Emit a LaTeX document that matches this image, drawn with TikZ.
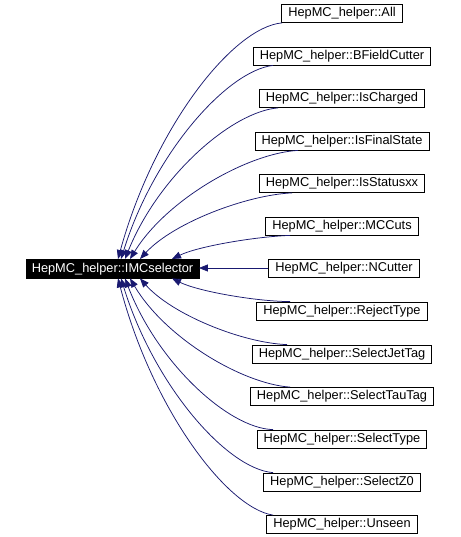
\documentclass[tikz,border=0pt]{standalone}
\usepackage{fontspec}
\setmainfont{Liberation Sans}
\usetikzlibrary{arrows.meta}
\definecolor{edgeblue}{RGB}{25,25,112}
\tikzset{
  cls/.style={draw=black, line width=0.8pt, fill=white, minimum height=18pt, inner ysep=0pt, inner xsep=6.5pt,
    font=\fontsize{12.8}{14}\selectfont},
  mainbox/.style={draw=black, fill=black, text=white, minimum height=19pt, inner ysep=0pt, inner xsep=5.5pt,
    font=\fontsize{12.8}{14}\selectfont},
  edge/.style={draw=edgeblue, line width=0.75pt, -{Triangle[length=9pt,width=7pt]}}
}
\begin{document}
\begin{tikzpicture}[x=1pt,y=-1pt]
\useasboundingbox[fill=white] (0,0) rectangle (460,537);
\node[mainbox] (main) at (112.5,268.7) {HepMC\_helper::IMCselector};
\node[cls] (n1)  at (342,13.5)  {HepMC\_helper::All};
\node[cls] (n2)  at (342,56)    {HepMC\_helper::BFieldCutter};
\node[cls] (n3)  at (342,98.5)  {HepMC\_helper::IsCharged};
\node[cls] (n4)  at (342,141)   {HepMC\_helper::IsFinalState};
\node[cls] (n5)  at (342,183.5) {HepMC\_helper::IsStatusxx};
\node[cls] (n6)  at (342,226)   {HepMC\_helper::MCCuts};
\node[cls] (n7)  at (344,268)   {HepMC\_helper::NCutter};
\node[cls] (n8)  at (342,311)   {HepMC\_helper::RejectType};
\node[cls] (n9)  at (342,354)   {HepMC\_helper::SelectJetTag};
\node[cls] (n10) at (342,396.5) {HepMC\_helper::SelectTauTag};
\node[cls] (n11) at (342,439)   {HepMC\_helper::SelectType};
\node[cls] (n12) at (342,482)   {HepMC\_helper::SelectZ0};
\node[cls] (n13) at (342,524.5) {HepMC\_helper::Unseen};

\draw[edge] ([xshift=-60pt]n1.south) .. controls (232.8,27.2) and (154.1,127.6) .. ([xshift=5.5pt]main.north);
\draw[edge] ([xshift=-69pt]n2.south) .. controls (227.4,70.8) and (154.4,152.3) .. ([xshift=8.5pt]main.north);
\draw[edge] ([xshift=-64pt]n3.south) .. controls (232.1,111.6) and (158.7,175.4) .. ([xshift=12.5pt]main.north);
\draw[edge] ([xshift=-44pt]n4.south) .. controls (247.6,153.3) and (167.0,199.1) .. ([xshift=17.5pt]main.north);
\draw[edge] ([xshift=-50pt]n5.south) .. controls (246.4,195.0) and (173.4,222.7) .. ([xshift=27.5pt]main.north);
\draw[edge] ([xshift=-52pt]n6.south) .. controls (254.6,236.7) and (198.0,246.4) .. ([xshift=59.5pt]main.north);
\draw[edge] (n7.west) -- (main.east |- n7.west);
\draw[edge] ([xshift=-52pt]n8.north) .. controls (254.6,301.3) and (198.0,291.2) .. ([xshift=59.5pt]main.south);
\draw[edge] ([xshift=-55pt]n9.north) .. controls (242.9,343.0) and (172.3,314.9) .. ([xshift=27.5pt]main.south);
\draw[edge] ([xshift=-52pt]n10.north) .. controls (242.0,383.7) and (165.2,338.0) .. ([xshift=17.5pt]main.south);
\draw[edge] ([xshift=-69pt]n11.north) .. controls (228.6,428.4) and (157.6,363.3) .. ([xshift=12.5pt]main.south);
\draw[edge] ([xshift=-69pt]n12.north) .. controls (227.4,469.1) and (154.4,386.4) .. ([xshift=8.5pt]main.south);
\draw[edge] ([xshift=-69pt]n13.north) .. controls (226.5,507.9) and (152.1,408.4) .. ([xshift=5.5pt]main.south);
\end{tikzpicture}
\end{document}
